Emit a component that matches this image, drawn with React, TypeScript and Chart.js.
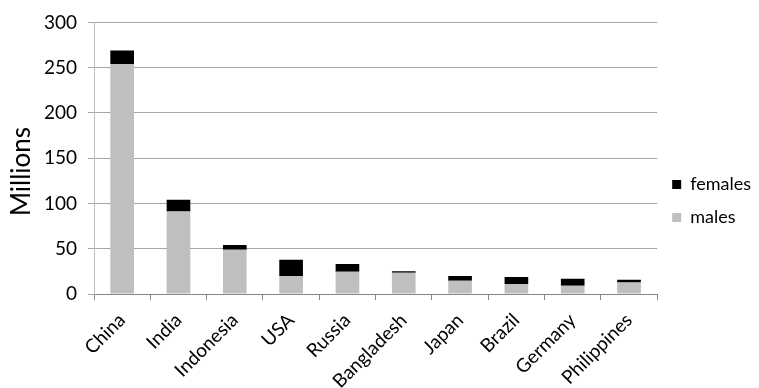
import React, { useEffect, useRef } from "react";
import { Chart, registerables } from "chart.js";

Chart.register(...registerables);

const categories = ["China", "India", "Indonesia", "USA", "Russia", "Bangladesh", "Japan", "Brazil", "Germany", "Philippines"];
const males = [254, 91, 49, 20, 24.5, 23.6, 14.5, 11, 9, 12.8];
const females = [15, 13, 5, 17.8, 8.5, 1.4, 5.5, 7.8, 7.8, 3];
const yTicks = [0, 50, 100, 150, 200, 250, 300];

const FONT = "Lato";

export default function App() {
  const ref = useRef<HTMLCanvasElement | null>(null);

  useEffect(() => {
    document.body.style.margin = "0";
    const canvas = ref.current;
    if (!canvas) return;
    const chart = new Chart(canvas, {
      type: "bar",
      data: {
        labels: categories,
        datasets: [
          { label: "males", data: males, backgroundColor: "#BFBFBF", borderWidth: 0 },
          { label: "females", data: females, backgroundColor: "#000000", borderWidth: 0 },
        ],
      },
      options: {
        animation: false,
        responsive: false,
        devicePixelRatio: 1,
        layout: { padding: { top: 14, right: -2, bottom: 0, left: 0 } },
        datasets: { bar: { categoryPercentage: 1, barPercentage: 0.42 } },
        plugins: {
          tooltip: { enabled: false },
          legend: {
            position: "right",
            reverse: true,
            labels: {
              boxWidth: 9,
              boxHeight: 9,
              padding: 15,
              color: "#000",
              font: { family: FONT, size: 18 },
            },
          },
        },
        scales: {
          x: {
            stacked: true,
            afterFit: (s: any) => { s.height = 94; },
            grid: { drawOnChartArea: false, drawTicks: true, tickLength: 6, color: "#868686" },
            border: { display: true, color: "#868686" },
            ticks: {
              autoSkip: false,
              minRotation: 45,
              maxRotation: 45,
              padding: 9,
              color: "#000",
              font: { family: FONT, size: 19 },
            },
          },
          y: {
            stacked: true,
            min: 0,
            max: 300,
            afterFit: (s: any) => { s.width = 94; },
            afterBuildTicks: (s: any) => { s.ticks = yTicks.map((v) => ({ value: v })); },
            grid: { drawTicks: true, tickLength: 6, color: "#A6A6A6" },
            border: { display: true, color: "#BFBFBF" },
            title: {
              display: true,
              text: "Millions    ",
              color: "#000",
              font: { family: FONT, size: 26 },
              padding: { top: 6, bottom: 0 },
            },
            ticks: {
              padding: 11,
              color: "#000",
              font: { family: FONT, size: 19 },
            },
          },
        },
      },
    });
    return () => chart.destroy();
  }, []);

  return (
    <div style={{ width: 759, height: 388 }}>
      <canvas ref={ref} width={759} height={388} style={{ display: "block" }} />
    </div>
  );
}
